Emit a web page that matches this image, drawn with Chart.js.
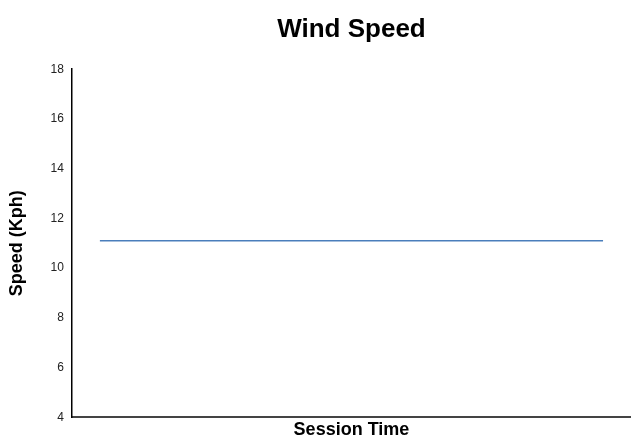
<!DOCTYPE html>
<html>
<head>
<meta charset="utf-8">
<script src="https://cdn.jsdelivr.net/npm/chart.js@4"></script>
<style>
    html, body { margin: 0; padding: 0; background: #fff; }
    #wrap { width: 631px; height: 441px; }
</style>
</head>
<body>
<div id="wrap"><canvas id="chart"></canvas></div>
<script>
    // session time samples (no tick labels shown on the chart)
    const sessionTimes = ['1', '2', '3', '4', '5', '6', '7', '8', '9', '10'];
    // wind speed, kph
    const windSpeed = [11.1, 11.1, 11.1, 11.1, 11.1, 11.1, 11.1, 11.1, 11.1, 11.1];
    const yTicks = [4, 6, 8, 10, 12, 14, 16, 18];

    const font = 'Liberation Sans, Arial, sans-serif';

    const ctx = document.getElementById('chart').getContext('2d');
    new Chart(ctx, {
        type: 'line',
        data: {
            labels: sessionTimes,
            datasets: [{
                label: 'Wind Speed',
                data: windSpeed,
                borderColor: '#4a7ebb',
                borderWidth: 1.5,
                pointRadius: 0,
                fill: false,
                tension: 0
            }]
        },
        options: {
            responsive: true,
            maintainAspectRatio: false,
            animation: false,
            layout: { padding: { top: 6, right: 0, bottom: 0, left: 6 } },
            plugins: {
                legend: { display: false },
                tooltip: { enabled: false },
                title: {
                    display: true,
                    text: 'Wind Speed',
                    fullSize: false,
                    color: '#000',
                    font: { family: font, size: 26, weight: 'bold' },
                    padding: { top: 8, bottom: 24 }
                }
            },
            scales: {
                x: {
                    offset: true,
                    grid: { display: false, drawTicks: false },
                    border: { display: true, color: '#444', width: 2 },
                    ticks: { display: false },
                    title: {
                        display: true,
                        text: 'Session Time',
                        color: '#000',
                        font: { family: font, size: 18, weight: 'bold' },
                        padding: { top: 2, bottom: 0 }
                    }
                },
                y: {
                    min: 4,
                    max: 18,
                    afterBuildTicks: axis => { axis.ticks = yTicks.map(v => ({ value: v })); },
                    grid: { display: false, drawTicks: false },
                    border: { display: true, color: '#000', width: 1.5 },
                    ticks: {
                        color: '#222',
                        padding: 8,
                        font: { family: font, size: 12 }
                    },
                    title: {
                        display: true,
                        text: 'Speed (Kph)',
                        color: '#000',
                        font: { family: font, size: 18, weight: 'bold' },
                        padding: { top: 0, bottom: 15 }
                    }
                }
            }
        }
    });
</script>
</body>
</html>
